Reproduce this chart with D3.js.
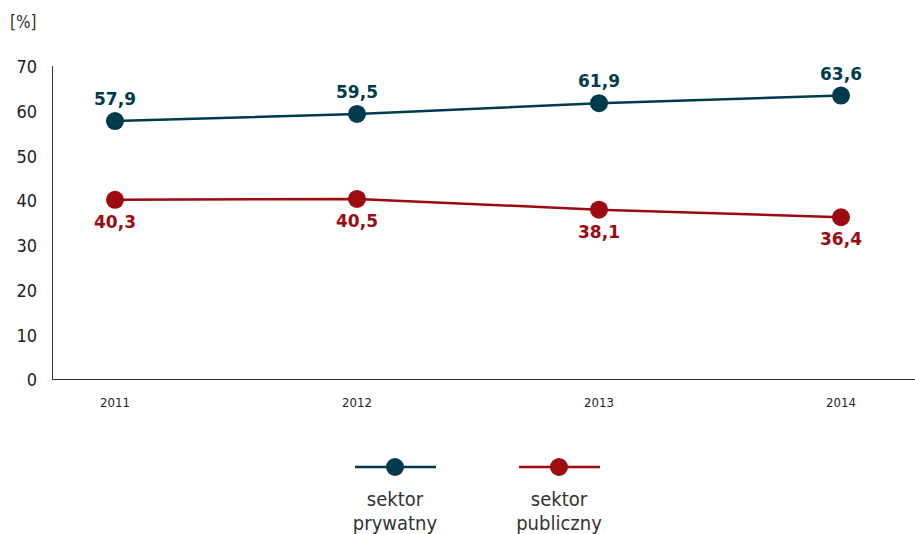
<!DOCTYPE html>
<html>
<head>
<meta charset="utf-8">
<script src="https://cdn.jsdelivr.net/npm/d3@7"></script>
<style>
  html, body { margin: 0; padding: 0; background: #fff; }
  svg { display: block; font-family: "DejaVu Sans", sans-serif; }
  .cond { font-family: "DejaVu Sans Condensed", "DejaVu Sans", sans-serif; font-stretch: condensed; }
</style>
</head>
<body>
<svg id="chart" width="915" height="534"></svg>
<script>
// Udział sektorów w latach 2011–2014 [%]
const years = ["2011", "2012", "2013", "2014"];
const privateSector = [57.9, 59.5, 61.9, 63.6];
const publicSector = [40.3, 40.5, 38.1, 36.4];
const yTicks = [0, 10, 20, 30, 40, 50, 60, 70];
const seriesNames = [["sektor", "prywatny"], ["sektor", "publiczny"]];
const seriesColors = ["#003a4d", "#9c0a12"];

const svg = d3.select("#chart");
const axisLeft = 52, axisRight = 915, axisTop = 67, axisBottom = 380;

const x = d3.scalePoint().domain(years).range([115, 841]);
const y = d3.scaleLinear().domain([0, 70]).range([axisBottom, axisTop]);

// unit label
svg.append("text").attr("class", "cond").attr("x", 10).attr("y", 28)
  .attr("font-size", 17).attr("fill", "#333").text("[%]");

// y axis: vertical line and tick labels
svg.append("line").attr("x1", axisLeft + 0.5).attr("x2", axisLeft + 0.5)
  .attr("y1", axisTop - 1).attr("y2", axisBottom).attr("stroke", "#333").attr("stroke-width", 1);
svg.append("g").selectAll("text").data(yTicks).join("text")
  .attr("class", "cond")
  .attr("x", 37).attr("y", d => y(d)).attr("dy", "0.35em")
  .attr("text-anchor", "end").attr("font-size", 18).attr("fill", "#222")
  .text(d => d);

// x axis: baseline and year labels
svg.append("line").attr("x1", axisLeft).attr("x2", axisRight)
  .attr("y1", axisBottom - 0.5).attr("y2", axisBottom - 0.5).attr("stroke", "#333").attr("stroke-width", 1);
svg.append("g").selectAll("text").data(years).join("text")
  .attr("class", "cond")
  .attr("x", d => x(d)).attr("y", 407)
  .attr("text-anchor", "middle").attr("font-size", 13).attr("fill", "#222")
  .text(d => d);

const line = d3.line().x((d, i) => x(years[i])).y(d => y(d));
const series = [privateSector, publicSector];

series.forEach((vals, s) => {
  const color = seriesColors[s];
  svg.append("path").datum(vals).attr("d", line)
    .attr("fill", "none").attr("stroke", color).attr("stroke-width", 2.5);
  svg.append("g").selectAll("circle").data(vals).join("circle")
    .attr("cx", (d, i) => x(years[i])).attr("cy", d => y(d)).attr("r", 9)
    .attr("fill", color);
  // value labels: above for the private sector, below for the public sector
  svg.append("g").selectAll("text").data(vals).join("text")
    .attr("x", (d, i) => x(years[i]))
    .attr("y", d => s === 0 ? y(d) - 16 : y(d) + 28)
    .attr("text-anchor", "middle").attr("font-size", 17).attr("font-weight", "bold")
    .attr("fill", color)
    .text(d => d.toFixed(1).replace(".", ","));
});

// legend
const legendX = [395, 559];
seriesNames.forEach((lines, s) => {
  const g = svg.append("g").attr("transform", `translate(${legendX[s]},467)`);
  g.append("line").attr("x1", -40).attr("x2", 41).attr("y1", 0).attr("y2", 0)
    .attr("stroke", seriesColors[s]).attr("stroke-width", 2.5);
  g.append("circle").attr("r", 9).attr("fill", seriesColors[s]);
  lines.forEach((t, k) => {
    g.append("text").attr("class", "cond").attr("x", 0).attr("y", 39 + k * 24)
      .attr("text-anchor", "middle").attr("font-size", 20).attr("fill", "#333")
      .text(t);
  });
});
</script>
</body>
</html>
